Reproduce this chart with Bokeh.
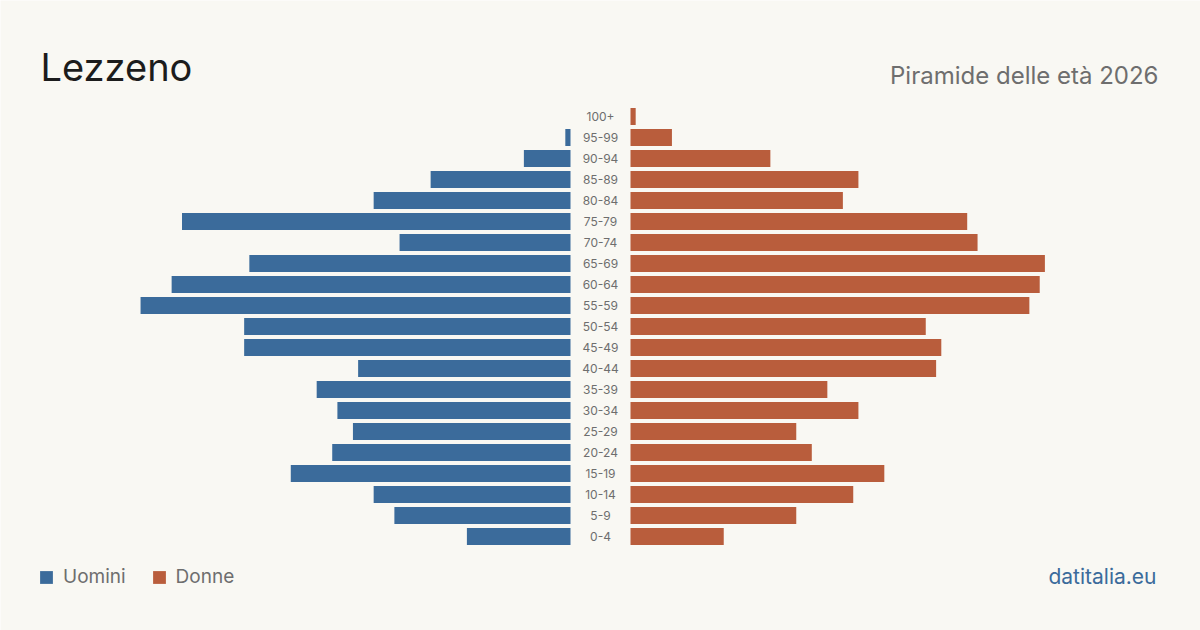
from bokeh.plotting import figure
from bokeh.models import Range1d, Label, Legend, LegendItem, ColumnDataSource
from bokeh.core.properties import value
from bokeh.embed import file_html
from bokeh.resources import INLINE

# Population by five-year age band (0-4 first)
age_groups = ["0-4", "5-9", "10-14", "15-19", "20-24", "25-29", "30-34", "35-39",
              "40-44", "45-49", "50-54", "55-59", "60-64", "65-69", "70-74",
              "75-79", "80-84", "85-89", "90-94", "95-99", "100+"]
men = [20, 34, 38, 54, 46, 42, 45, 49, 41, 63, 63, 83, 77, 62, 33, 75, 38, 27, 9, 1, 0]
women = [18, 32, 43, 49, 35, 32, 44, 38, 59, 60, 57, 77, 79, 80, 67, 65, 41, 44, 27, 8, 1]

BG = "#f9f8f3"
BLUE = "#3b6b9b"
ORANGE = "#b95d3c"
FONT = "Inter"

W, H = 1200, 630
PX = 5.18          # pixels per person
GAP = 30 / PX      # half of the central gap holding the age labels
ROW = 21           # pixels per age band

y_idx = list(range(len(age_groups)))
src = ColumnDataSource(dict(
    y=y_idx,
    label=age_groups,
    m_left=[-GAP - v for v in men],
    m_right=[-GAP] * len(men),
    f_left=[GAP] * len(women),
    f_right=[GAP + v for v in women],
))

p = figure(width=W, height=H, output_backend="svg", toolbar_location=None,
           x_range=Range1d(-600 / PX, 600 / PX),
           y_range=Range1d(-(H - 536) / ROW, 536 / ROW),
           min_border=0, background_fill_color=BG, border_fill_color=BG)
p.axis.visible = False
p.grid.visible = False
p.outline_line_color = None

r_m = p.hbar(y="y", left="m_left", right="m_right", height=17 / ROW,
             fill_color=BLUE, line_color=None, source=src)
r_f = p.hbar(y="y", left="f_left", right="f_right", height=17 / ROW,
             fill_color=ORANGE, line_color=None, source=src)

p.text(x=0, y="y", text="label", source=src, text_align="center",
       text_baseline="middle", text_font=value(FONT), text_font_size="12px",
       text_color="#6e6e6e")

p.add_layout(Label(x=40, y=H - 66, x_units="screen", y_units="screen",
                   text="Lezzeno", text_font=FONT, text_font_size="38px",
                   text_color="#1c1c1c", text_baseline="alphabetic"))
p.add_layout(Label(x=1158, y=H - 75, x_units="screen", y_units="screen",
                   text="Piramide delle età 2026", text_font=FONT,
                   text_font_size="24px", text_color="#6e6e6e",
                   text_align="right", text_baseline="alphabetic"))
p.add_layout(Label(x=1156, y=H - 576, x_units="screen", y_units="screen",
                   text="datitalia.eu", text_font=FONT,
                   text_font_size="21px", text_color=BLUE,
                   text_align="right", text_baseline="alphabetic"))

legend = Legend(items=[LegendItem(label="Uomini", renderers=[r_m]),
                       LegendItem(label="Donne", renderers=[r_f])],
                orientation="horizontal", location=(38, H - 588),
                glyph_width=16, glyph_height=16, label_standoff=9, spacing=25,
                padding=0, margin=0, border_line_color=None,
                background_fill_alpha=0, label_text_font=FONT,
                label_text_font_size="19px", label_text_color="#6e6e6e")
p.add_layout(legend)

open("out.html", "w").write(file_html(p, INLINE))
